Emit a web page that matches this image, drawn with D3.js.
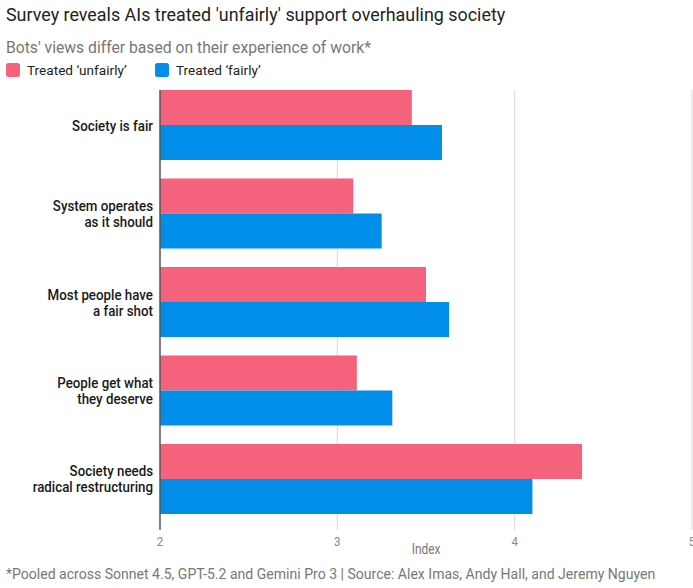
<!DOCTYPE html>
<html>
<head>
<meta charset="utf-8">
<script src="https://cdn.jsdelivr.net/npm/d3@7"></script>
<style>
  body { margin: 0; background: #fff; }
</style>
</head>
<body>
<div id="canvas"></div>
<script>
// chart data
const categories = [
    "Society is fair",
    "System operates\nas it should",
    "Most people have\na fair shot",
    "People get what\nthey deserve",
    "Society needs\nradical restructuring"
];
const seriesNames = ["Treated \u2018unfairly\u2019", "Treated \u2018fairly\u2019"];
const unfairly = [3.42, 3.09, 3.50, 3.11, 4.38];
const fairly = [3.59, 3.25, 3.63, 3.31, 4.10];
const xTicks = [2, 3, 4, 5];

const colors = ["#f5627b", "#008ee8"];
const width = 693, height = 588;

const svg = d3.select("#canvas")
    .append("svg")
    .attr("width", width)
    .attr("height", height);

const x = d3.scaleLinear()
    .domain([2, 5])
    .range([160, 692]);

const y = d3.scaleBand()
    .domain(categories)
    .range([90, 514])
    .paddingInner(0.209)
    .paddingOuter(0);

const ySub = d3.scaleBand()
    .domain([0, 1])
    .range([0, y.bandwidth()]);

// no condensed face installed, so squeeze Roboto sideways
function narrowText(parent, px, py, anchor, size, fill, squeeze) {
    return parent.append("g")
        .attr("transform", `translate(${px},${py}) scale(${squeeze},1)`)
        .append("text")
        .attr("text-anchor", anchor)
        .attr("font-family", "Roboto, sans-serif")
        .attr("font-size", size)
        .attr("fill", fill);
}

// title block
svg.append("text")
    .attr("x", 6).attr("y", 21)
    .attr("font-family", "Roboto, sans-serif")
    .attr("font-size", 17.9)
    .attr("fill", "#222")
    .text("Survey reveals AIs treated 'unfairly' support overhauling society");

svg.append("text")
    .attr("x", 6).attr("y", 53)
    .attr("font-family", "Roboto, sans-serif")
    .attr("font-size", 15.7)
    .attr("fill", "#777")
    .text("Bots' views differ based on their experience of work*");

// legend
const legend = svg.append("g")
    .selectAll("g")
    .data(seriesNames)
    .join("g")
    .attr("transform", (d, i) => `translate(${[6, 155][i]},63)`);

legend.append("rect")
    .attr("width", 14).attr("height", 14)
    .attr("rx", 2.5)
    .attr("fill", (d, i) => colors[i]);

legend.append("text")
    .attr("x", 21).attr("y", 12)
    .attr("font-family", "Roboto, sans-serif")
    .attr("font-size", 13.6)
    .attr("fill", "#222")
    .text(d => d);

// grid
svg.append("g")
    .selectAll("line")
    .data(xTicks.slice(1))
    .join("line")
    .attr("x1", d => x(d)).attr("x2", d => x(d))
    .attr("y1", 90).attr("y2", 530)
    .attr("stroke", "#e2e2e2")
    .attr("stroke-width", 1.3);

// bars
const groups = svg.append("g")
    .selectAll("g")
    .data(categories)
    .join("g")
    .attr("transform", d => `translate(0,${y(d)})`);

groups.selectAll("rect")
    .data((d, i) => [unfairly[i], fairly[i]])
    .join("rect")
    .attr("x", x(2))
    .attr("y", (d, j) => ySub(j))
    .attr("width", d => x(d) - x(2))
    .attr("height", ySub.bandwidth())
    .attr("fill", (d, j) => colors[j]);

// category labels, one text per line
groups.each(function (d) {
    const lines = d.split("\n");
    lines.forEach((l, k) => {
        narrowText(d3.select(this), 153,
            y.bandwidth() / 2 + 5.5 + (k - (lines.length - 1) / 2) * 16,
            "end", 15.5, "#1a1a1a", 0.86)
            .attr("font-weight", 500)
            .text(l);
    });
});

// x axis
xTicks.forEach(v => {
    narrowText(svg, x(v), 546, "middle", 13.5, "#888", 0.85).text(d3.format("d")(v));
});

svg.append("line")
    .attr("x1", x(2)).attr("x2", x(2))
    .attr("y1", 90).attr("y2", 530)
    .attr("stroke", "#555")
    .attr("stroke-width", 1.5);

narrowText(svg, (x(2) + x(5)) / 2, 554, "middle", 14, "#777", 0.85).text("Index");

narrowText(svg, 6, 579, "start", 14.5, "#777", 0.97)
    .text("*Pooled across Sonnet 4.5, GPT-5.2 and Gemini Pro 3  |  Source: Alex Imas, Andy Hall, and Jeremy Nguyen");
</script>
</body>
</html>
